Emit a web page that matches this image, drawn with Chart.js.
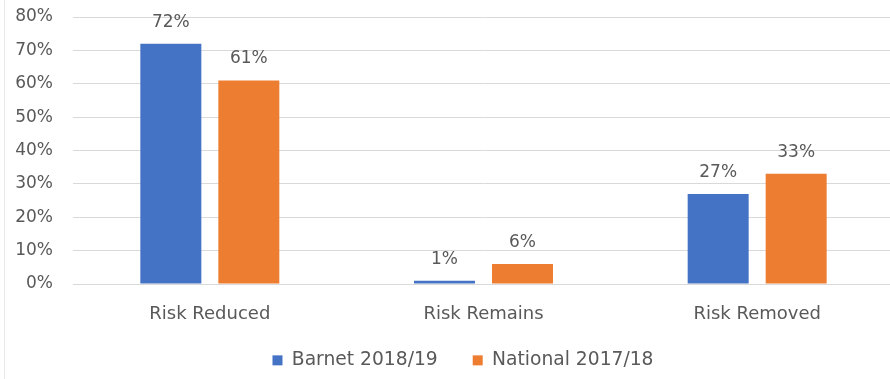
<!DOCTYPE html>
<html>
<head>
<meta charset="utf-8">
<script src="https://cdn.jsdelivr.net/npm/chart.js@4/dist/chart.umd.min.js"></script>
<style>
  html, body { margin: 0; padding: 0; background: #fff; overflow: hidden; }
  #wrap { width: 894px; height: 379px; }
</style>
</head>
<body>
<div id="wrap"><canvas id="riskChart"></canvas></div>
<script>
const categories = ["Risk Reduced", "Risk Remains", "Risk Removed"];
const barnetValues = [72, 1, 27];
const nationalValues = [61, 6, 33];
const seriesNames = ["Barnet 2018/19", "National 2017/18"];
const yTicks = [0, 10, 20, 30, 40, 50, 60, 70, 80];

const textColor = "#595959";
const fontFamily = "'DejaVu Sans', sans-serif";

// percentage text above each bar
const valueLabels = {
  id: "valueLabels",
  afterDatasetsDraw(chart) {
    const ctx = chart.ctx;
    ctx.save();
    ctx.font = "17px " + fontFamily;
    ctx.fillStyle = textColor;
    ctx.textAlign = "center";
    ctx.textBaseline = "alphabetic";
    chart.data.datasets.forEach((ds, i) => {
      chart.getDatasetMeta(i).data.forEach((bar, j) => {
        ctx.fillText(ds.data[j] + "%", bar.x, bar.y - 17);
      });
    });
    ctx.restore();
  }
};

// thin frame line on the left edge
const frameLine = {
  id: "frameLine",
  beforeDraw(chart) {
    const ctx = chart.ctx;
    ctx.save();
    ctx.strokeStyle = "#e8e8e8";
    ctx.lineWidth = 1;
    ctx.beginPath();
    ctx.moveTo(4.5, 0);
    ctx.lineTo(4.5, chart.height);
    ctx.stroke();
    ctx.restore();
  }
};

// legend reserves a short strip but is drawn in a taller box,
// so the wide item padding doesn't push the plot up
const legendBox = {
  id: "legendBox",
  afterLayout(chart) {
    const lg = chart.legend;
    lg.top = lg.bottom - 63;
    lg.height = 63;
    lg.left += 32;
    lg.width -= 32;
  }
};

const chart = new Chart(document.getElementById("riskChart"), {
  type: "bar",
  data: {
    labels: categories,
    datasets: [
      { label: seriesNames[0], data: barnetValues, backgroundColor: "#4472c4" },
      { label: seriesNames[1], data: nationalValues, backgroundColor: "#ed7d31" }
    ]
  },
  options: {
    responsive: true,
    maintainAspectRatio: false,
    animation: false,
    categoryPercentage: 0.57,
    barPercentage: 0.782,
    layout: { padding: { top: 17, right: 0, left: 0, bottom: 0 } },
    plugins: {
      tooltip: { enabled: false },
      legend: {
        position: "bottom",
        labels: {
          color: textColor,
          font: { family: fontFamily, size: 18.7 },
          boxWidth: 10,
          boxHeight: 10,
          padding: 35
        }
      }
    },
    scales: {
      x: {
        grid: { display: false },
        border: { color: "#d9d9d9" },
        ticks: { color: textColor, font: { family: fontFamily, size: 18 }, padding: 12 },
        afterFit(scale) { scale.height = 57; }
      },
      y: {
        min: 0,
        max: 80,
        afterBuildTicks(axis) { axis.ticks = yTicks.map(v => ({ value: v })); },
        afterFit(scale) {
          scale.width = 73;
          scale.paddingTop = 0;
        },
        grid: { color: "#d9d9d9", drawTicks: false },
        border: { display: false },
        ticks: {
          color: textColor,
          font: { family: fontFamily, size: 17 },
          padding: 20,
          callback: v => v + "%"
        }
      }
    }
  },
  plugins: [valueLabels, frameLine, legendBox]
});

const legendFit = chart.legend.fit;
chart.legend.fit = function () {
  legendFit.call(this);
  this.height = 38;
};
chart.update();
</script>
</body>
</html>
